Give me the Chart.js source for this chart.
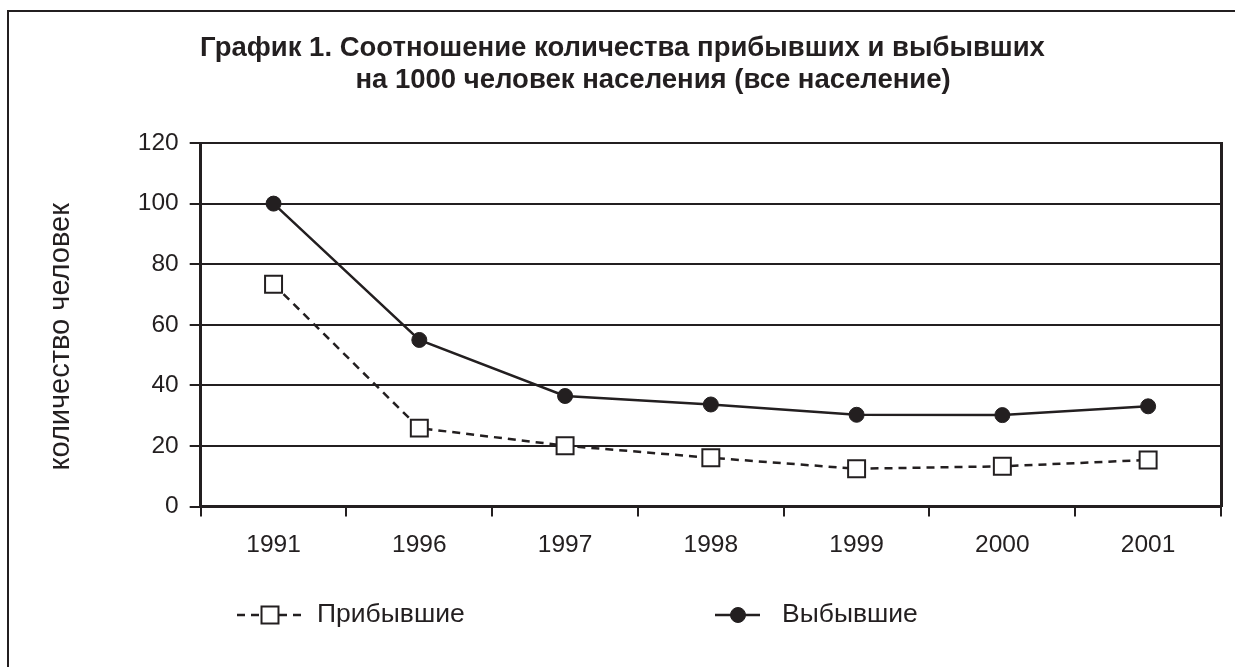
<!DOCTYPE html>
<html lang="ru">
<head>
<meta charset="utf-8">
<title>График 1</title>
<script src="https://cdn.jsdelivr.net/npm/chart.js@4/dist/chart.umd.min.js"></script>
<style>
  html, body { margin: 0; padding: 0; background: #fff; }
  #wrap { position: relative; width: 1235px; height: 667px; overflow: hidden; }
  #frame {
    position: absolute; left: 7px; top: 10px; width: 1300px; height: 700px;
    border-left: 2px solid #231f20; border-top: 2px solid #231f20;
    pointer-events: none;
  }
  canvas { position: absolute; left: 0; top: 0; }
</style>
</head>
<body>
<div id="wrap">
  <canvas id="myChart" width="1235" height="667"></canvas>
  <div id="frame"></div>
</div>
<script>
const years = ["1991", "1996", "1997", "1998", "1999", "2000", "2001"];
const arrived = [73.4, 25.9, 20.1, 16.1, 12.5, 13.3, 15.4];
const departed = [100, 55.0, 36.5, 33.7, 30.3, 30.2, 33.1];
const yTicks = [0, 20, 40, 60, 80, 100, 120];

const titleLines = [
  "График 1. Соотношение количества прибывших и выбывших",
  "        на 1000 человек населения (все население)",
];
const yTitle = "количество человек   ";

const ink = "#231f20";
const fontFamily = "'Liberation Sans', Arial, Helvetica, sans-serif";

// legend drawn by hand: line + marker, like the old Excel legend
const legendPlugin = {
  id: "lineLegend",
  afterDraw(chart) {
    const ctx = chart.ctx;
    const items = [
      { ds: 0, x1: 237, x2: 303, mx: 270, tx: 317 },
      { ds: 1, x1: 715, x2: 760, mx: 738, tx: 782 },
    ];
    const y = 615;
    ctx.save();
    items.forEach((it) => {
      const ds = chart.data.datasets[it.ds];
      ctx.strokeStyle = ds.borderColor;
      ctx.lineWidth = ds.borderWidth;
      ctx.setLineDash(ds.borderDash || []);
      ctx.beginPath();
      ctx.moveTo(it.x1, y);
      ctx.lineTo(it.x2, y);
      ctx.stroke();
      ctx.setLineDash([]);
      ctx.fillStyle = ds.pointBackgroundColor;
      ctx.strokeStyle = ds.pointBorderColor;
      ctx.lineWidth = ds.pointBorderWidth;
      Chart.helpers.drawPoint(ctx, {
        pointStyle: ds.pointStyle,
        radius: ds.pointRadius,
        rotation: 0,
        borderWidth: ds.pointBorderWidth,
      }, it.mx, y);
      ctx.fillStyle = ink;
      ctx.font = "26.5px " + fontFamily;
      ctx.textBaseline = "middle";
      ctx.textAlign = "left";
      ctx.fillText(ds.label, it.tx, y);
    });
    ctx.restore();
  },
};

new Chart("myChart", {
  type: "line",
  data: {
    labels: years,
    datasets: [
      {
        label: "Прибывшие",
        data: arrived,
        borderColor: ink,
        borderWidth: 2.5,
        borderDash: [8, 6],
        pointStyle: "rect",
        pointRadius: 12,
        pointBackgroundColor: "#ffffff",
        pointBorderColor: ink,
        pointBorderWidth: 2,
        fill: false,
        tension: 0,
      },
      {
        label: "Выбывшие",
        data: departed,
        borderColor: ink,
        borderWidth: 2.5,
        pointStyle: "circle",
        pointRadius: 7.5,
        pointBackgroundColor: ink,
        pointBorderColor: ink,
        pointBorderWidth: 1,
        fill: false,
        tension: 0,
      },
    ],
  },
  options: {
    responsive: false,
    animation: false,
    layout: { padding: { left: 20, right: 10, top: 0, bottom: 93 } },
    plugins: {
      legend: { display: false },
      tooltip: { enabled: false },
      title: {
        display: true,
        text: titleLines,
        color: ink,
        font: { family: fontFamily, size: 27.5, weight: "bold", lineHeight: 1.164 },
        padding: { top: 32, bottom: 47 },
      },
    },
    scales: {
      x: {
        offset: true,
        grid: {
          offset: true,
          drawOnChartArea: false,
          drawTicks: true,
          tickLength: 10,
          color: ink,
          lineWidth: 2,
        },
        border: { display: true, color: ink, width: 3 },
        ticks: {
          color: ink,
          padding: 14,
          maxRotation: 0,
          font: { family: fontFamily, size: 24.5 },
        },
      },
      y: {
        min: 0,
        max: 120,
        afterBuildTicks: (axis) => {
          axis.ticks = yTicks.map((v) => ({ value: v }));
        },
        grid: {
          color: ink,
          lineWidth: 2,
          tickLength: 11,
        },
        border: { display: true, color: ink, width: 3 },
        ticks: {
          color: ink,
          padding: 11,
          font: { family: fontFamily, size: 24.5 },
        },
        title: {
          display: true,
          text: yTitle,
          color: ink,
          font: { family: fontFamily, size: 29 },
          padding: { top: 24, bottom: 48 },
        },
      },
      yRight: {
        position: "right",
        min: 0,
        max: 120,
        grid: { drawOnChartArea: false, drawTicks: false },
        border: { display: true, color: ink, width: 3 },
        ticks: { display: false },
      },
    },
  },
  plugins: [legendPlugin],
});
</script>
</body>
</html>
